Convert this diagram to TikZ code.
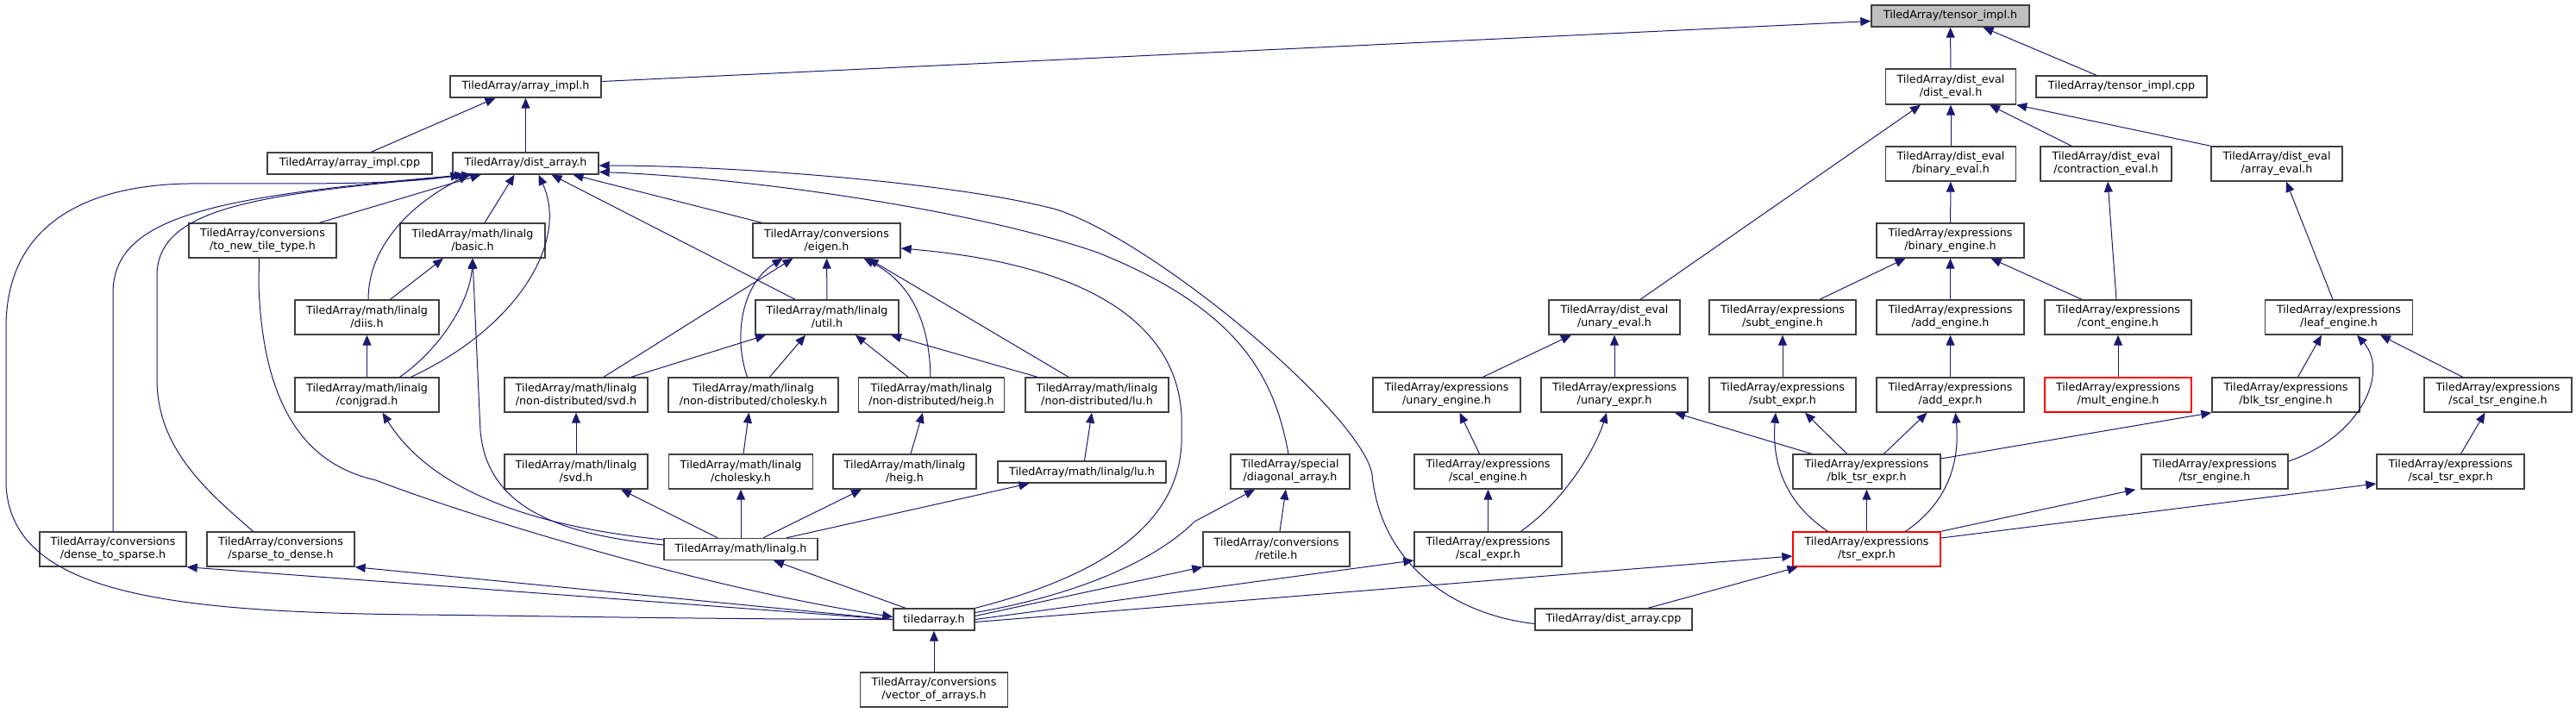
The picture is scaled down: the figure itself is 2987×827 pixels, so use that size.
\documentclass[tikz,border=0pt]{standalone}
\usepackage{fontspec}
\setmainfont{DejaVu Sans}
\usepackage{xcolor}
\usepackage{tikz}
\usetikzlibrary{arrows.meta, calc}
\definecolor{edgeblue}{HTML}{191970}
\definecolor{focusgray}{HTML}{BFBFBF}
\definecolor{boxline}{HTML}{404040}
\tikzset{
  hdr/.style={draw=boxline, line width=1.4pt, fill=white, align=center, inner sep=1pt,
    font=\fontsize{12.7}{15}\selectfont, minimum height=40pt},
  oneline/.style={minimum height=25pt},
  trunc/.style={draw=red},
  focus/.style={fill=focusgray},
  dep/.style={draw=edgeblue, line width=1pt, -{Triangle[length=12pt,width=10pt]}},
}

\begin{document}
\begin{tikzpicture}[x=1pt, y=-1pt]
    \useasboundingbox (0,0) rectangle (2987,827);

    \node[hdr, focus, oneline, minimum width=183pt] (tensorimpl) at (2261.5,18.5) {TiledArray/tensor\_impl.h};
    \node[hdr, oneline, minimum width=175pt] (arrimpl) at (609.5,100.5) {TiledArray/array\_impl.h};
    \node[hdr, minimum width=151pt, minimum height=41pt] (disteval) at (2262,100.5) {TiledArray/dist\_eval\\/dist\_eval.h};
    \node[hdr, oneline, minimum width=198pt] (tensorcpp) at (2460,100.5) {TiledArray/tensor\_impl.cpp};
    \node[hdr, oneline, minimum width=191pt] (arrimplcpp) at (405.5,189.5) {TiledArray/array\_impl.cpp};
    \node[hdr, oneline, minimum width=169pt] (distarr) at (609.5,189.5) {TiledArray/dist\_array.h};
    \node[hdr, minimum width=151pt] (binaryeval) at (2262,190) {TiledArray/dist\_eval\\/binary\_eval.h};
    \node[hdr, minimum width=152pt] (contreval) at (2442,190) {TiledArray/dist\_eval\\/contraction\_eval.h};
    \node[hdr, minimum width=152pt] (arreval) at (2640,190) {TiledArray/dist\_eval\\/array\_eval.h};
    \node[hdr, minimum width=171pt] (tonewtile) at (304.5,279) {TiledArray/conversions\\/to\_new\_tile\_type.h};
    \node[hdr, minimum width=168pt] (basic) at (548,279) {TiledArray/math/linalg\\/basic.h};
    \node[hdr, minimum width=171pt] (eigen) at (958.5,279) {TiledArray/conversions\\/eigen.h};
    \node[hdr, minimum width=171pt] (binaryengine) at (2261.5,279) {TiledArray/expressions\\/binary\_engine.h};
    \node[hdr, minimum width=167pt] (diis) at (425.5,368) {TiledArray/math/linalg\\/diis.h};
    \node[hdr, minimum width=166pt] (util) at (959,368) {TiledArray/math/linalg\\/util.h};
    \node[hdr, minimum width=152pt] (unaryeval) at (1872,368) {TiledArray/dist\_eval\\/unary\_eval.h};
    \node[hdr, minimum width=170pt] (subtengine) at (2067,368) {TiledArray/expressions\\/subt\_engine.h};
    \node[hdr, minimum width=171pt] (addengine) at (2261.5,368) {TiledArray/expressions\\/add\_engine.h};
    \node[hdr, minimum width=170pt] (contengine) at (2456,368) {TiledArray/expressions\\/cont\_engine.h};
    \node[hdr, minimum width=171pt] (leafengine) at (2712,368) {TiledArray/expressions\\/leaf\_engine.h};
    \node[hdr, minimum width=167pt] (conjgrad) at (425.5,458) {TiledArray/math/linalg\\/conjgrad.h};
    \node[hdr, minimum width=166pt] (ndsvd) at (668,458) {TiledArray/math/linalg\\/non-distributed/svd.h};
    \node[hdr, minimum width=197pt] (ndcholesky) at (873.5,458) {TiledArray/math/linalg\\/non-distributed/cholesky.h};
    \node[hdr, minimum width=169pt] (ndheig) at (1080,458) {TiledArray/math/linalg\\/non-distributed/heig.h};
    \node[hdr, minimum width=166pt] (ndlu) at (1272,458) {TiledArray/math/linalg\\/non-distributed/lu.h};
    \node[hdr, minimum width=171pt] (unaryengine) at (1677.5,458) {TiledArray/expressions\\/unary\_engine.h};
    \node[hdr, minimum width=170pt] (unaryexpr) at (1872,458) {TiledArray/expressions\\/unary\_expr.h};
    \node[hdr, minimum width=170pt] (subtexpr) at (2067,458) {TiledArray/expressions\\/subt\_expr.h};
    \node[hdr, minimum width=171pt] (addexpr) at (2261.5,458) {TiledArray/expressions\\/add\_expr.h};
    \node[hdr, trunc, minimum width=170pt] (multengine) at (2456,458) {TiledArray/expressions\\/mult\_engine.h};
    \node[hdr, minimum width=171pt] (blktsrengine) at (2650.5,458) {TiledArray/expressions\\/blk\_tsr\_engine.h};
    \node[hdr, minimum width=171pt] (scaltsrengine) at (2896.5,458) {TiledArray/expressions\\/scal\_tsr\_engine.h};
    \node[hdr, minimum width=166pt] (svd) at (668,547) {TiledArray/math/linalg\\/svd.h};
    \node[hdr, minimum width=167pt] (cholesky) at (859,547) {TiledArray/math/linalg\\/cholesky.h};
    \node[hdr, minimum width=166pt] (heig) at (1049,547) {TiledArray/math/linalg\\/heig.h};
    \node[hdr, oneline, minimum width=195pt] (lu) at (1254.5,547.5) {TiledArray/math/linalg/lu.h};
    \node[hdr, minimum width=138pt] (diagarr) at (1496,547) {TiledArray/special\\/diagonal\_array.h};
    \node[hdr, minimum width=171pt] (scalengine) at (1725.5,547) {TiledArray/expressions\\/scal\_engine.h};
    \node[hdr, minimum width=171pt] (blktsrexpr) at (2164.5,547) {TiledArray/expressions\\/blk\_tsr\_expr.h};
    \node[hdr, minimum width=170pt] (tsrengine) at (2568,547) {TiledArray/expressions\\/tsr\_engine.h};
    \node[hdr, minimum width=171pt] (scaltsrexpr) at (2841.5,547) {TiledArray/expressions\\/scal\_tsr\_expr.h};
    \node[hdr, minimum width=170pt] (densetosparse) at (131,637) {TiledArray/conversions\\/dense\_to\_sparse.h};
    \node[hdr, minimum width=171pt] (sparsetodense) at (325.5,637) {TiledArray/conversions\\/sparse\_to\_dense.h};
    \node[hdr, oneline, minimum width=178pt] (linalg) at (859,637) {TiledArray/math/linalg.h};
    \node[hdr, minimum width=170pt] (retile) at (1480,637) {TiledArray/conversions\\/retile.h};
    \node[hdr, minimum width=171pt] (scalexpr) at (1725.5,637) {TiledArray/expressions\\/scal\_expr.h};
    \node[hdr, trunc, minimum width=171pt] (tsrexpr) at (2164.5,637) {TiledArray/expressions\\/tsr\_expr.h};
    \node[hdr, oneline, minimum width=94pt] (tiledarray) at (1083,718.5) {tiledarray.h};
    \node[hdr, oneline, minimum width=182pt] (distarrcpp) at (1871,718.5) {TiledArray/dist\_array.cpp};
    \node[hdr, minimum width=171pt] (vecofarr) at (1083,800) {TiledArray/conversions\\/vector\_of\_arrays.h};

    % tensor_impl.h and array_impl.h
    \draw[dep] ([yshift=6pt]arrimpl.east) -- ([yshift=-6pt]tensorimpl.west);
    \draw[dep] (disteval) -- (tensorimpl);
    \draw[dep] ([xshift=-29pt]tensorcpp.north) -- ([xshift=38pt]tensorimpl.south);
    \draw[dep] ([xshift=25pt]arrimplcpp.north) -- ([xshift=-35pt]arrimpl.south);
    \draw[dep] (distarr) -- (arrimpl);

    % dist_eval side
    \draw[dep] ([xshift=30pt]unaryeval.north) -- ([xshift=-35pt]disteval.south);
    \draw[dep] (binaryeval) -- (disteval);
    \draw[dep] ([xshift=-40pt]contreval.north) -- ([xshift=45pt]disteval.south);
    \draw[dep] (arreval.north west) -- (disteval.south east);
    \draw[dep] (binaryengine) -- (binaryeval);
    \draw[dep] ([xshift=43pt]subtengine.north) -- ([xshift=-52pt]binaryengine.south);
    \draw[dep] (addengine) -- (binaryengine);
    \draw[dep] ([xshift=-42pt]contengine.north) -- ([xshift=47pt]binaryengine.south);
    \draw[dep] ([xshift=-2pt]contengine.north) -- ([xshift=2pt]contreval.south);
    \draw[dep] ([xshift=-7pt]leafengine.north) -- ([xshift=11pt]arreval.south);
    \draw[dep] ([xshift=42pt]unaryengine.north) -- ([xshift=-50pt]unaryeval.south);
    \draw[dep] (unaryexpr) -- (unaryeval);
    \draw[dep] (subtexpr) -- (subtengine);
    \draw[dep] (addexpr) -- (addengine);
    \draw[dep] (multengine) -- (contengine);
    \draw[dep] ([xshift=14pt]blktsrengine.north) -- ([xshift=-20pt]leafengine.south);
    \draw[dep] ([yshift=12pt]tsrengine.east) .. controls (2740,505) and (2770,430) .. ([xshift=21pt]leafengine.south);
    \draw[dep] ([xshift=-41pt]scaltsrengine.north) -- ([xshift=48pt]leafengine.south);
    \draw[dep] ([xshift=-10pt]scalengine.north) -- ([xshift=15pt]unaryengine.south);
    \draw[dep] ([xshift=38pt]scalexpr.north) .. controls (1815,580) and (1850,520) .. ([xshift=-9pt]unaryexpr.south);
    \draw[dep] ([xshift=-64pt]blktsrexpr.north) -- ([xshift=70pt]unaryexpr.south);
    \draw[dep] ([xshift=-23pt]blktsrexpr.north) -- ([xshift=26pt]subtexpr.south);
    \draw[dep] ([xshift=-45pt]tsrexpr.north) .. controls (2065,580) and (2055,530) .. ([xshift=-8pt]subtexpr.south);
    \draw[dep] ([xshift=20pt]blktsrexpr.north) -- ([xshift=-27pt]addexpr.south);
    \draw[dep] ([xshift=45pt]tsrexpr.north) .. controls (2263,580) and (2272,530) .. ([xshift=6pt]addexpr.south);
    \draw[dep] ([yshift=15pt]blktsrexpr.east) -- (blktsrengine.south west);
    \draw[dep] (scalexpr) -- (scalengine);
    \draw[dep] (tsrexpr) -- (blktsrexpr);
    \draw[dep] (tsrexpr.north east) -- ([xshift=-6pt]tsrengine.south west);
    \draw[dep] ([xshift=12pt]scaltsrexpr.north) -- ([xshift=-15pt]scaltsrengine.south);
    \draw[dep] ([yshift=13pt]tsrexpr.east) -- ([yshift=-14pt]scaltsrexpr.west);
    \draw[dep] ([xshift=40pt]distarrcpp.north) -- ([xshift=-80pt]tsrexpr.south);

    % dist_array.h
    \draw[dep] ([yshift=-5pt]distarrcpp.west) .. controls (1680,712) and (1600,650) .. (1591,550)
        .. controls (1578,480) and (1340,280) .. (1225,243)
        .. controls (1110,212) and (850,192) .. ([yshift=-2.5pt]distarr.east);
    \draw[dep] ([xshift=-2pt]diagarr.north) .. controls (1478,440) and (1440,360) .. (1273,293)
        .. controls (1120,240) and (850,205) .. ([yshift=-10pt]distarr.east);
    \draw[dep] ([xshift=-75pt]eigen.north) -- ([xshift=55pt]distarr.south);
    \draw[dep] ([xshift=-37pt]util.north) -- ([xshift=30pt]distarr.south);
    \draw[dep] ([xshift=51pt]conjgrad.north) .. controls (600,380) and (660,280) .. ([xshift=15pt]distarr.south);
    \draw[dep] ([xshift=14pt]basic.north) -- ([xshift=-13pt]distarr.south);
    \draw[dep] ([xshift=66pt]tonewtile.north) -- ([xshift=-52pt]distarr.south);
    \draw[dep] ([xshift=1.5pt]diis.north) .. controls (427,290) and (470,240) .. ([xshift=-66pt]distarr.south);
    \draw[dep] (densetosparse.north) -- (131,340) .. controls (131,250) and (250,228) .. ([xshift=-70pt]distarr.south);
    \draw[dep] ([xshift=-32pt]sparsetodense.north) .. controls (240,570) and (182,520) .. (182,440) -- (182,320)
        .. controls (182,240) and (300,225) .. ([xshift=-62pt]distarr.south);
    \draw[dep] (tiledarray.west) .. controls (800,718) and (600,714) .. (485,713)
        .. controls (200,710) and (10,690) .. (7,560) -- (7,380)
        .. controls (7,260) and (100,215) .. (218,213)
        .. controls (330,212) and (450,216) .. ([xshift=-75pt]distarr.south);

    % linalg
    \draw[dep] ([xshift=-4pt]tonewtile.south) -- (300,330) .. controls (305,480) and (360,540) .. (436,557)
        .. controls (520,590) and (800,680) .. ([yshift=3pt]tiledarray.west);
    \draw[dep] (tiledarray.west) -- (densetosparse.south east);
    \draw[dep] (tiledarray.west) -- (sparsetodense.south east);
    \draw[dep] (conjgrad) -- (diis);
    \draw[dep] ([xshift=38pt]conjgrad.north) .. controls (510,405) and (545,350) .. (basic.south);
    \draw[dep] ([xshift=27pt]diis.north) -- ([xshift=-34pt]basic.south);
    \draw[dep] ([yshift=5pt]linalg.west) .. controls (650,620) and (565,590) .. (557,500) -- (basic.south);
    \draw[dep] ([yshift=11pt]linalg.west) .. controls (660,615) and (510,585) .. ([xshift=18pt]conjgrad.south);
    \draw[dep] ([xshift=-33pt]tiledarray.north) -- ([xshift=38pt]linalg.south);
    \draw[dep] (vecofarr) -- (tiledarray);
    \draw[dep] ([xshift=-27pt]linalg.north) -- ([xshift=52pt]svd.south);
    \draw[dep] (linalg) -- (cholesky);
    \draw[dep] ([xshift=26pt]linalg.north) -- ([xshift=-50pt]heig.south);
    \draw[dep] ([xshift=53pt]linalg.north) -- ([xshift=-61pt]lu.south);
    \draw[dep] (svd) -- (ndsvd);
    \draw[dep] ([xshift=3pt]cholesky.north) -- ([xshift=-5pt]ndcholesky.south);
    \draw[dep] ([xshift=7pt]heig.north) -- ([xshift=-10pt]ndheig.south);
    \draw[dep] ([xshift=3pt]lu.north) -- ([xshift=-6pt]ndlu.south);

    % eigen.h and util.h
    \draw[dep] ([xshift=32pt]ndsvd.north) -- ([xshift=-39pt]eigen.south);
    \draw[dep] ([xshift=64pt]ndsvd.north) -- ([xshift=-71pt]util.south);
    \draw[dep] ([xshift=-7pt]ndcholesky.north) .. controls (850,390) and (860,330) .. ([xshift=-51pt]eigen.south);
    \draw[dep] ([xshift=19pt]ndcholesky.north) -- ([xshift=-25pt]util.south);
    \draw[dep] ([xshift=-1pt]ndheig.north) .. controls (1078,380) and (1060,330) .. ([xshift=43pt]eigen.south);
    \draw[dep] ([xshift=-27pt]ndheig.north) -- ([xshift=33pt]util.south);
    \draw[dep] ([xshift=-33pt]ndlu.north) -- ([xshift=48pt]eigen.south);
    \draw[dep] ([xshift=-69pt]ndlu.north) -- ([xshift=74pt]util.south);
    \draw[dep] (util) -- (eigen);
    \draw[dep] (tiledarray.north east) .. controls (1270,670) and (1375,610) .. (1370,500)
        .. controls (1375,400) and (1300,310) .. ([yshift=-9pt]eigen.east);

    % tiledarray.h, right side
    \draw[dep] ([yshift=8pt]tiledarray.east) .. controls (1250,690) and (1340,650) .. (1385,605) -- ([xshift=-41pt]diagarr.south);
    \draw[dep] ([yshift=4pt]tiledarray.east) -- (retile.south west);
    \draw[dep] ([xshift=4pt]retile.north) -- ([xshift=-5pt]diagarr.south);
    \draw[dep] (tiledarray.east) -- ([yshift=-13pt]scalexpr.west);
    \draw[dep] ([yshift=-3pt]tiledarray.east) -- ([yshift=-8pt]tsrexpr.west);
\end{tikzpicture}
\end{document}
